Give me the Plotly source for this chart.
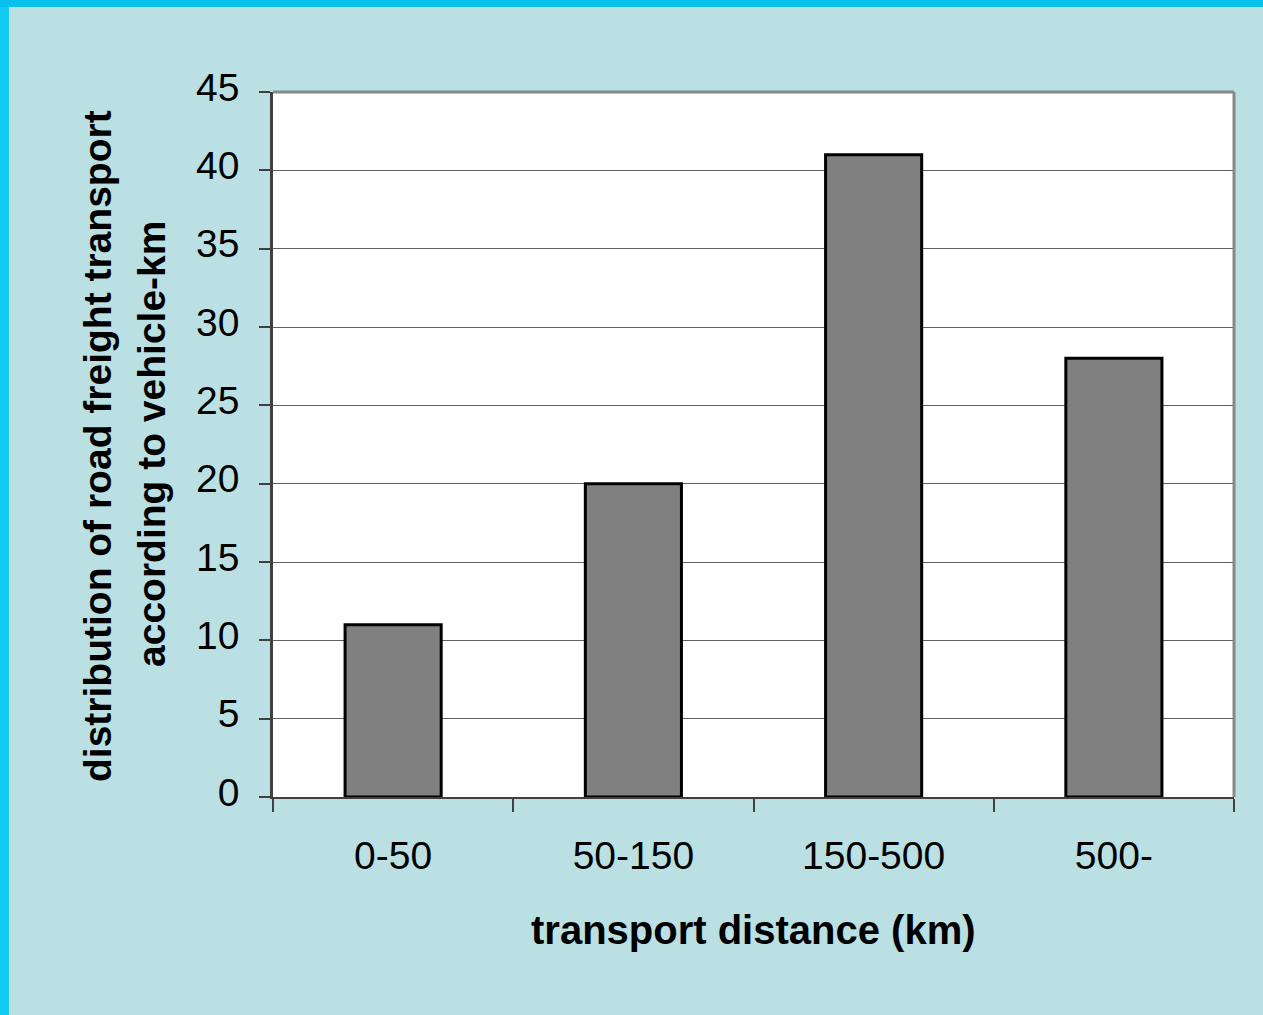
import plotly.graph_objects as go

# Share of road freight vehicle-km by transport distance band
distance_bands = ["0-50", "50-150", "150-500", "500-"]
share_values = [11, 20, 41, 28]
y_ticks = [0, 5, 10, 15, 20, 25, 30, 35, 40, 45]

W, H = 1263, 1015
ML, MR, MT, MB = 273, 29, 92, 218
PW, PH = W - ML - MR, H - MT - MB

BG = "#BAE0E3"
FRAME = "#14CAF0"
FONT = "Liberation Sans, Arial, sans-serif"


def px_x(p):
    """Horizontal pixel -> paper coordinate."""
    return (p - ML) / PW


def px_y(p):
    """Vertical pixel (from top) -> paper coordinate."""
    return (H - MB - p) / PH


fig = go.Figure(
    go.Bar(
        x=distance_bands,
        y=share_values,
        width=0.4,
        marker=dict(color="#808080", line=dict(color="#000000", width=3)),
    )
)

fig.update_layout(
    width=W,
    height=H,
    margin=dict(l=ML, r=MR, t=MT, b=MB, pad=0),
    paper_bgcolor=BG,
    plot_bgcolor="#FFFFFF",
    showlegend=False,
    font=dict(family=FONT, size=39, color="#000000"),
    xaxis=dict(
        type="category",
        range=[-0.5, 3.5],
        tickson="boundaries",
        ticks="outside",
        ticklen=13,
        tickwidth=1.5,
        tickcolor="#404040",
        showline=True,
        linecolor="#404040",
        linewidth=2,
        showgrid=False,
        tickfont=dict(size=39),
        ticklabelstandoff=23,
    ),
    yaxis=dict(
        range=[0, 45],
        tickvals=y_ticks,
        ticks="outside",
        ticklen=11,
        tickwidth=1.5,
        tickcolor="#404040",
        showline=True,
        linecolor="#404040",
        linewidth=2.5,
        showgrid=True,
        gridcolor="#606060",
        gridwidth=1,
        zeroline=False,
        tickfont=dict(size=39),
        ticklabelstandoff=12,
        ticklabelshift=-5,
    ),
    bargap=0.6,
)

# top and right edges of the plot frame
fig.add_shape(type="line", xref="paper", yref="paper", x0=0, x1=1, y0=1, y1=1,
              line=dict(color="#888888", width=3), layer="above")
fig.add_shape(type="line", xref="paper", yref="paper", x0=1, x1=1, y0=0, y1=1,
              line=dict(color="#888888", width=3), layer="above")

# cyan slide frame along the top and left edges
fig.add_shape(type="rect", xref="paper", yref="paper",
              x0=px_x(-2), x1=px_x(9), y0=px_y(H + 2), y1=px_y(-2),
              fillcolor=FRAME, line=dict(width=0), layer="below")
fig.add_shape(type="rect", xref="paper", yref="paper",
              x0=px_x(-2), x1=px_x(W + 2), y0=px_y(7), y1=px_y(-2),
              fillcolor="#08C0EC", line=dict(width=0), layer="below")

# axis titles
fig.add_annotation(text="<b>transport distance (km)</b>", xref="paper", yref="paper",
                   x=px_x(753), y=px_y(930), xanchor="center", yanchor="middle",
                   showarrow=False, font=dict(size=40))
fig.add_annotation(text="<b>distribution of road freight transport</b>", xref="paper", yref="paper",
                   x=px_x(97), y=px_y(446), xanchor="center", yanchor="middle",
                   textangle=-90, showarrow=False, font=dict(size=39))
fig.add_annotation(text="<b>according to vehicle-km</b>", xref="paper", yref="paper",
                   x=px_x(151), y=px_y(444), xanchor="center", yanchor="middle",
                   textangle=-90, showarrow=False, font=dict(size=39))

fig.write_html("out.html")
